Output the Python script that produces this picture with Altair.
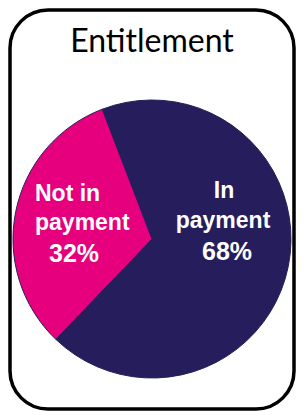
import math
import altair as alt
import pandas as pd

# ---- data ----
categories = ["In payment", "Not in payment"]
values = [68, 32]
slice_colors = ["#261d5c", "#e6007e"]
title_text = "Entitlement"
in_label_lines = ["In", "payment"]
not_label_lines = ["Not in", "payment"]

df = pd.DataFrame({"category": categories, "value": values, "order": [0, 1]})

NAVY = slice_colors[0]
CX, CY, R = 142, 229, 139
start = math.radians(339)

pie = alt.Chart(df).mark_arc(outerRadius=R, stroke=NAVY, strokeWidth=1).encode(
    theta=alt.Theta("value:Q", stack=True,
                    scale=alt.Scale(range=[start, start + 2 * math.pi])),
    color=alt.Color("category:N",
                    scale=alt.Scale(domain=categories, range=slice_colors),
                    legend=None),
    order=alt.Order("order:Q"),
    x=alt.value(CX),
    y=alt.value(CY),
)


def text_line(txt, x, y, size, align="center", font="Liberation Sans",
              weight="bold", color="white"):
    return alt.Chart(pd.DataFrame({"t": [txt]})).mark_text(
        x=x, y=y, align=align, baseline="alphabetic", font=font,
        fontSize=size, fontWeight=weight, color=color,
    ).encode(text="t:N")


title = text_line(title_text, 142, 42, 32, font="Lato", weight="normal",
                  color="black")

layers = [pie, title]
# right label (In payment)
layers.append(text_line(in_label_lines[0], 214, 188, 23))
layers.append(text_line(in_label_lines[1], 213, 218, 23))
layers.append(text_line(f"{values[0]}%", 217, 250, 25))
# left label (Not in payment)
layers.append(text_line(not_label_lines[0], 25, 191, 23, align="left"))
layers.append(text_line(not_label_lines[1], 25, 220, 23, align="left"))
layers.append(text_line(f"{values[1]}%", 39, 252, 25, align="left"))

chart = alt.layer(*layers).properties(
    width=284, height=399, padding=2, autosize="none", background="white"
).configure_view(
    stroke="black", strokeWidth=3.5, cornerRadius=38, fill="white"
)

chart.save("out.html", embed_options={"renderer": "svg", "actions": False})
